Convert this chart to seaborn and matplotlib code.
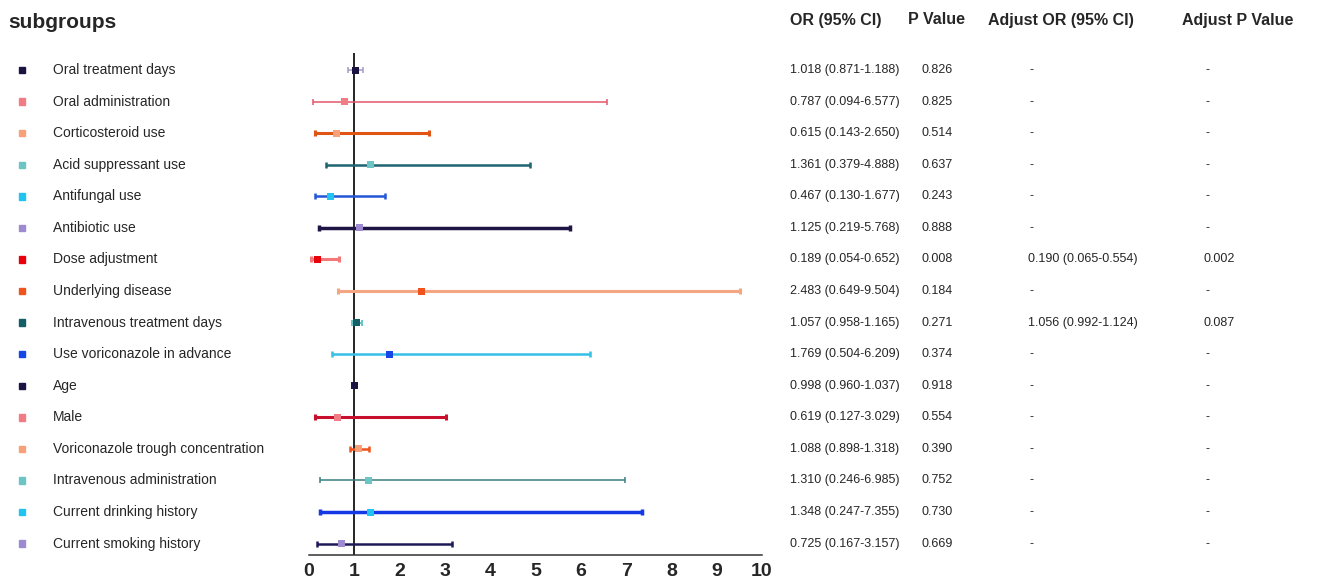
import numpy as np
import pandas as pd
import matplotlib
matplotlib.use("Agg")
import matplotlib.pyplot as plt
import matplotlib.transforms as mtransforms
import seaborn as sns

# Datos del forest plot
subgroups = ["Oral treatment days", "Oral administration", "Corticosteroid use",
             "Acid suppressant use", "Antifungal use", "Antibiotic use",
             "Dose adjustment", "Underlying disease", "Intravenous treatment days",
             "Use voriconazole in advance", "Age", "Male",
             "Voriconazole trough concentration", "Intravenous administration",
             "Current drinking history", "Current smoking history"]
odds = [1.018, 0.787, 0.615, 1.361, 0.467, 1.125, 0.189, 2.483, 1.057, 1.769,
        0.998, 0.619, 1.088, 1.310, 1.348, 0.725]
ci_low = [0.871, 0.094, 0.143, 0.379, 0.130, 0.219, 0.054, 0.649, 0.958, 0.504,
          0.960, 0.127, 0.898, 0.246, 0.247, 0.167]
ci_high = [1.188, 6.577, 2.650, 4.888, 1.677, 5.768, 0.652, 9.504, 1.165, 6.209,
           1.037, 3.029, 1.318, 6.985, 7.355, 3.157]
p_values = ["0.826", "0.825", "0.514", "0.637", "0.243", "0.888", "0.008", "0.184",
            "0.271", "0.374", "0.918", "0.554", "0.390", "0.752", "0.730", "0.669"]
adj_or = ["-", "-", "-", "-", "-", "-", "0.190 (0.065-0.554)", "-",
          "1.056 (0.992-1.124)", "-", "-", "-", "-", "-", "-", "-"]
adj_p = ["-", "-", "-", "-", "-", "-", "0.002", "-", "0.087", "-", "-", "-", "-",
         "-", "-", "-"]
x_ticks = [0, 1, 2, 3, 4, 5, 6, 7, 8, 9, 10]

# Estilos
marker_colors = ["#1b1443", "#f27c86", "#f7a07a", "#6cc4c4", "#21c3f0", "#9d8ad0",
                 "#e8000b", "#f0541e", "#145f66", "#1447e6", "#1b1443", "#f27c86",
                 "#f7a07a", "#6cc4c4", "#21c3f0", "#9d8ad0"]
line_colors = ["#a59ac8", "#e4566a", "#e05414", "#1f6470", "#2355d8", "#1e1545",
               "#f4777a", "#f6a583", "#66c4c4", "#35c0e6", "#1b1443", "#c8102e",
               "#f0541e", "#3a8080", "#1438e6", "#1e1a58"]
line_widths = [1.1, 1.1, 2.2, 1.8, 1.8, 2.5, 2.2, 2.2, 1.4, 1.8, 1.4, 2.2, 1.8,
               1.1, 2.5, 1.8]

sns.set_style("white")
plt.rcParams["font.family"] = ["Liberation Sans", "DejaVu Sans"]

df = pd.DataFrame({"subgroup": subgroups, "OR": odds, "low": ci_low, "high": ci_high})
df["row"] = np.arange(len(df))

fig = plt.figure(figsize=(13.44, 5.87), dpi=100)
ax = fig.add_axes([0.2299, 0.0545, 0.3371, 0.8552])

for i, r in df.iterrows():
    ax.errorbar(r["OR"], r["row"], xerr=[[r["OR"] - r["low"]], [r["high"] - r["OR"]]],
                fmt="none", ecolor=line_colors[i], elinewidth=line_widths[i],
                capsize=2.2, capthick=line_widths[i], zorder=2)

sns.scatterplot(data=df, x="OR", y="row", hue="subgroup", palette=marker_colors,
                marker="s", s=25, linewidth=0, legend=False, ax=ax, zorder=3)

ax.axvline(1, color="black", lw=1.2, zorder=1)
ax.set_xlim(0, 10)
ax.set_ylim(15.36, -0.54)
ax.set_xticks(x_ticks)
ax.set_xticklabels([str(t) for t in x_ticks], fontsize=14, fontweight="bold")
ax.set_yticks([])
ax.set_xlabel("")
ax.set_ylabel("")
for s in ["top", "right", "left"]:
    ax.spines[s].set_visible(False)
ax.spines["bottom"].set_linewidth(1.1)
ax.spines["bottom"].set_color("#333333")
ax.tick_params(axis="x", direction="out", length=5, width=1.1, color="#333333", pad=0.5)

trans = mtransforms.blended_transform_factory(fig.transFigure, ax.transData)
W = 1344.0
for i in range(len(df)):
    fig.patches.append(plt.Rectangle((19 / W, i - 0.1), 6 / W, 0.2,
                                     transform=trans, color=marker_colors[i]))
    ax.text(53 / W, i, subgroups[i], transform=trans, fontsize=10, va="center",
            ha="left", clip_on=False)
    ax.text(790 / W, i, f"{odds[i]:.3f} ({ci_low[i]:.3f}-{ci_high[i]:.3f})",
            transform=trans, fontsize=9, va="center", ha="left", clip_on=False)
    ax.text(922 / W, i, p_values[i], transform=trans, fontsize=9, va="center",
            ha="left", clip_on=False)
    ax.text((1028 if adj_or[i] != "-" else 1030) / W, i, adj_or[i], transform=trans,
            fontsize=9, va="center", ha="left", clip_on=False)
    ax.text((1203 if adj_p[i] != "-" else 1205) / W, i, adj_p[i], transform=trans,
            fontsize=9, va="center", ha="left", clip_on=False)

H = 587.0
fig.text(8 / W, 1 - 23 / H, "subgroups", fontsize=15, fontweight="bold", va="center")
for xh, txt in [(790, "OR (95% CI)"), (908, "P Value"), (988, "Adjust OR (95% CI)"),
                (1182, "Adjust P Value")]:
    fig.text(xh / W, 1 - 20 / H, txt, fontsize=11.5, fontweight="bold", va="center")

fig.savefig("out.png", dpi=100)
